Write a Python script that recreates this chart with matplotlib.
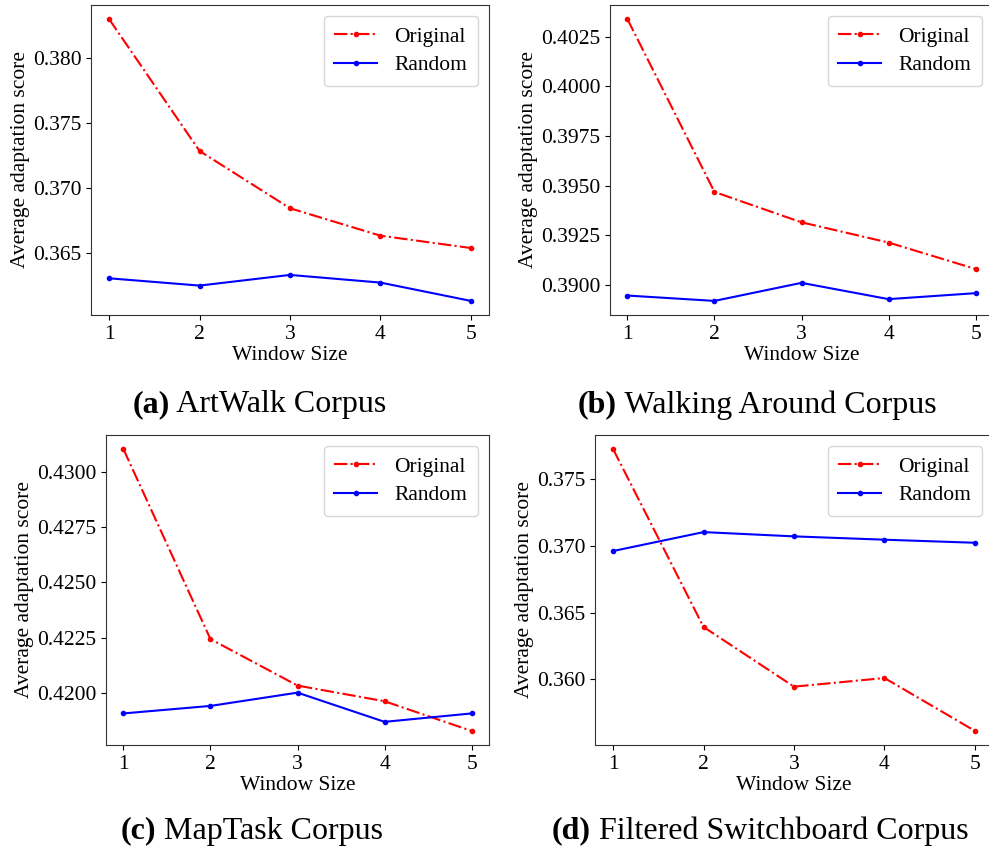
import matplotlib
matplotlib.use("Agg")
import matplotlib.pyplot as plt

plt.rcParams['font.family'] = ['Liberation Serif', 'DejaVu Serif']

window_sizes = [1, 2, 3, 4, 5]

artwalk_original = [0.3830, 0.37285, 0.36844, 0.36633, 0.36538]
artwalk_random = [0.36305, 0.36249, 0.36331, 0.36272, 0.36131]

walking_original = [0.40339, 0.39468, 0.39315, 0.39213, 0.39080]
walking_random = [0.38946, 0.38919, 0.39010, 0.38928, 0.38958]

maptask_original = [0.43102, 0.42243, 0.42033, 0.41962, 0.41828]
maptask_random = [0.41907, 0.41941, 0.42001, 0.41869, 0.41907]

switchboard_original = [0.37728, 0.36393, 0.35945, 0.36010, 0.35613]
switchboard_random = [0.36963, 0.37105, 0.37073, 0.37048, 0.37025]

captions = [("(a)", " ArtWalk Corpus"),
            ("(b)", " Walking Around Corpus"),
            ("(c)", " MapTask Corpus"),
            ("(d)", " Filtered Switchboard Corpus")]

yticks = [
    [0.365, 0.370, 0.375, 0.380],
    [0.3900, 0.3925, 0.3950, 0.3975, 0.4000, 0.4025],
    [0.4200, 0.4225, 0.4250, 0.4275, 0.4300],
    [0.360, 0.365, 0.370, 0.375],
]
yfmt = ["%.3f", "%.4f", "%.4f", "%.3f"]

W, H = 989, 852
fig = plt.figure(figsize=(W / 100, H / 100), dpi=100)

# axes boxes in pixels: left, right, top, bottom
boxes = [(91, 489, 5, 315), (610, 993, 5, 315),
         (106, 489, 435, 745), (595, 993, 435, 745)]
cap_pos = [(259, 405), (757, 405), (252, 831), (760, 831)]

data = [(artwalk_original, artwalk_random),
        (walking_original, walking_random),
        (maptask_original, maptask_random),
        (switchboard_original, switchboard_random)]

fs = 15.5
for i, ((l, r, t, b), (orig, rand)) in enumerate(zip(boxes, data)):
    ax = fig.add_axes([l / W, 1 - b / H, (r - l) / W, (b - t) / H])
    ax.plot(window_sizes, orig, color='red', linestyle='-.', marker='.',
            markersize=6, linewidth=1.5, label='Original')
    ax.plot(window_sizes, rand, color='blue', linestyle='-', marker='.',
            markersize=6, linewidth=1.5, label='Random')
    ax.set_xticks(window_sizes)
    ax.set_yticks(yticks[i])
    ax.set_yticklabels([yfmt[i] % v for v in yticks[i]])
    ax.tick_params(labelsize=fs)
    ax.set_xlabel('Window Size', fontsize=fs, labelpad=2)
    ax.set_ylabel('Average adaptation score', fontsize=fs, labelpad=2)
    for s in ax.spines.values():
        s.set_color('#333333')
    ax.legend(loc='upper right', fontsize=fs, handlelength=2.0,
              borderpad=0.5, labelspacing=0.4)
    # caption: bold tag followed by regular text, centred as a group
    cx, cy = cap_pos[i]
    tag, rest = captions[i]
    t1 = fig.text(0, 0, tag, fontsize=23, fontweight='bold')
    t2 = fig.text(0, 0, rest, fontsize=23)
    fig.canvas.draw()
    rend = fig.canvas.get_renderer()
    w1 = t1.get_window_extent(rend).width
    w2 = t2.get_window_extent(rend).width
    x0 = cx - (w1 + w2) / 2
    t1.set_position((x0 / W, 1 - cy / H))
    t1.set_va('center')
    t2.set_position(((x0 + w1) / W, 1 - cy / H))
    t2.set_va('center')

fig.savefig('out.png', dpi=100)
